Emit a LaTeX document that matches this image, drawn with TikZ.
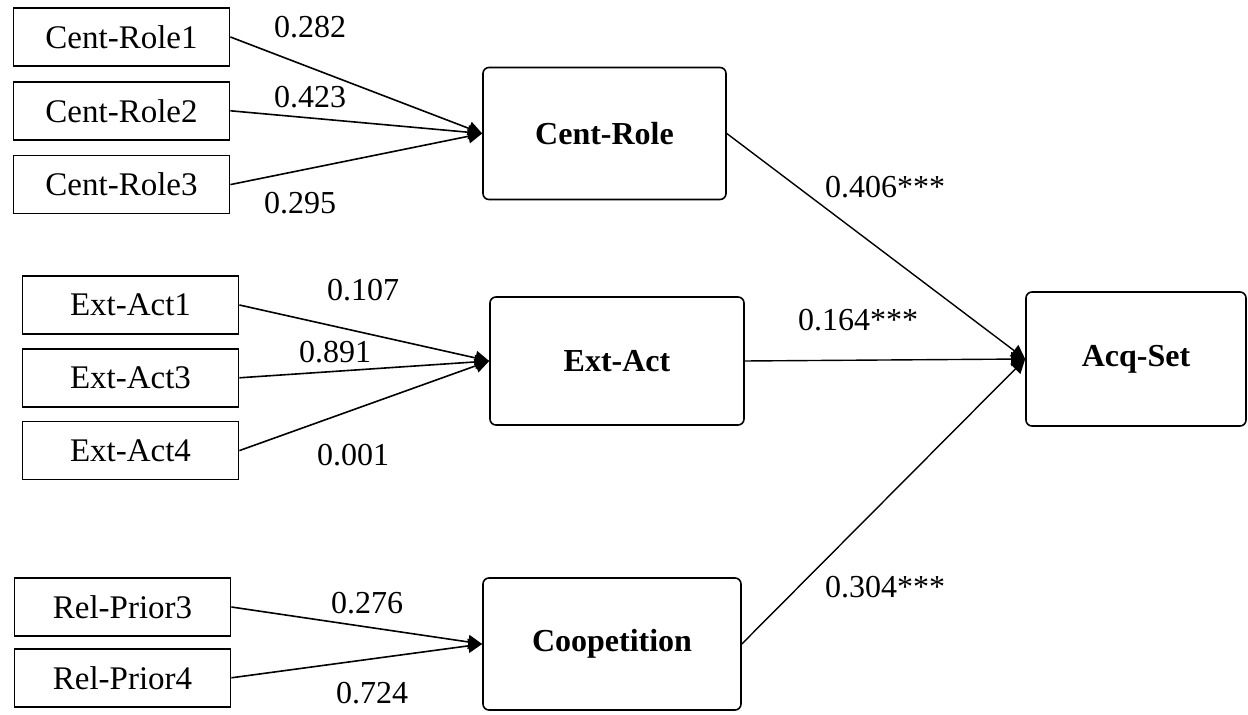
\documentclass[tikz,border=0pt]{standalone}
\usepackage{fontspec}
\setmainfont{Liberation Serif}
\usetikzlibrary{positioning, arrows.meta}

\tikzset{
    item/.style={draw, line width=0.9pt, minimum width=108pt, minimum height=29pt, font=\fontsize{16.5}{19}\selectfont},
    factor/.style={draw, line width=0.8pt, rounded corners=3pt, minimum height=66pt, font=\fontsize{16}{19}\selectfont\bfseries},
    link/.style={line width=0.8pt, -{Triangle[length=7pt, width=7pt]}},
    coef/.style={font=\fontsize{16}{19}\selectfont, inner sep=0pt}
}

\begin{document}
\begin{tikzpicture}[x=0.5pt, y=-0.5pt]
    \useasboundingbox (0,0) rectangle (1248,715);
    % indicators
    \node (CR1) [item] at (121.5,37) {Cent-Role1};
    \node (CR2) [item, below=7pt of CR1] {Cent-Role2};
    \node (CR3) [item, below=7pt of CR2] {Cent-Role3};
    \node (EA1) [item] at (130.5,305) {Ext-Act1};
    \node (EA3) [item, below=6.5pt of EA1] {Ext-Act3};
    \node (EA4) [item, below=6.5pt of EA3] {Ext-Act4};
    \node (RP3) [item] at (122.5,607) {Rel-Prior3};
    \node (RP4) [item, below=5.5pt of RP3] {Rel-Prior4};
    % constructs
    \node (CentRole) [factor, minimum width=121.5pt] at (604.5,133.5) {Cent-Role};
    \node (ExtAct) [factor, minimum width=127pt, minimum height=64pt] at (617,361) {Ext-Act};
    \node (Coop) [factor, minimum width=129pt] at (612,644) {Coopetition};
    \node (AcqSet) [factor, minimum width=110pt, minimum height=67pt] at (1136,359) {Acq-Set};
    % loadings
    \draw [link] (CR1.east) -- (CentRole.west);
    \draw [link] (CR2.east) -- (CentRole.west);
    \draw [link] (CR3.east) -- (CentRole.west);
    \draw [link] (EA1.east) -- (ExtAct.west);
    \draw [link] (EA3.east) -- (ExtAct.west);
    \draw [link] (EA4.east) -- (ExtAct.west);
    \draw [link] (RP3.east) -- (Coop.west);
    \draw [link] (RP4.east) -- (Coop.west);
    % paths
    \draw [link, line width=0.7pt] (CentRole.east) -- (AcqSet.west);
    \draw [link, line width=0.7pt] (ExtAct.east) -- (AcqSet.west);
    \draw [link, line width=0.7pt] (Coop.east) -- (AcqSet.west);
    % coefficients
    \node (w1) [coef] at (310,27) {0.282};
    \node (w2) [coef] at (310,97) {0.423};
    \node (w3) [coef] at (300,203) {0.295};
    \node (w4) [coef] at (363,290) {0.107};
    \node (w5) [coef] at (335,352) {0.891};
    \node (w6) [coef] at (353,455) {0.001};
    \node (w7) [coef] at (367,603) {0.276};
    \node (w8) [coef] at (372,693) {0.724};
    \node (b1) [coef] at (885,187) {0.406***};
    \node (b2) [coef] at (858,320) {0.164***};
    \node (b3) [coef] at (885,587) {0.304***};
\end{tikzpicture}
\end{document}
